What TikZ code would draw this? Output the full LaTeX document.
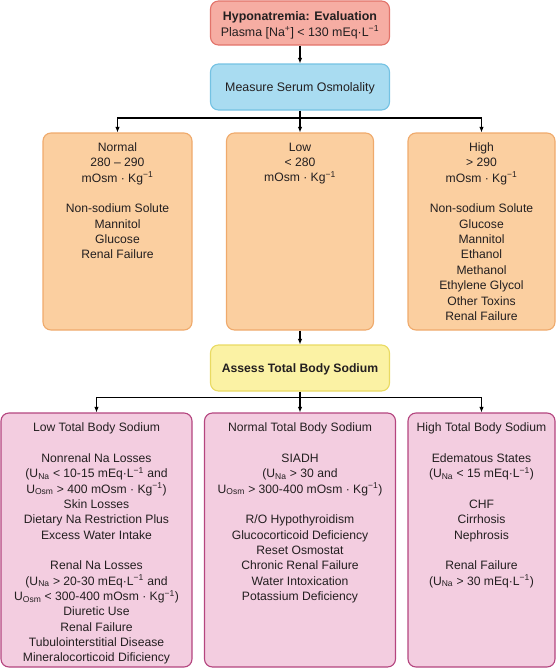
\documentclass[tikz,border=0pt]{standalone}
\usepackage{fontspec}
\setmainfont{Liberation Sans}
\usetikzlibrary{arrows.meta}
\definecolor{ink}{HTML}{231F20}
\definecolor{redfill}{HTML}{F6ADA3}
\definecolor{redline}{HTML}{E2736A}
\definecolor{bluefill}{HTML}{A9DCF1}
\definecolor{blueline}{HTML}{74C2E3}
\definecolor{orfill}{HTML}{FBCFA0}
\definecolor{orline}{HTML}{EFAA6C}
\definecolor{yelfill}{HTML}{FBF2A4}
\definecolor{yelline}{HTML}{E9DA62}
\definecolor{pinkfill}{HTML}{F3CDE0}
\definecolor{pinkline}{HTML}{B4457F}
\tikzset{
  txt/.style={text=ink, font=\fontsize{12.15}{15.35}\selectfont, align=center, inner sep=0pt},
  bigtxt/.style={txt, font=\fontsize{12.4}{15.3}\selectfont},
  boxbase/.style={rounded corners=8pt, line width=1.1pt, inner sep=0pt},
  redbox/.style={boxbase, draw=redline, fill=redfill},
  bluebox/.style={boxbase, draw=blueline, fill=bluefill},
  orbox/.style={boxbase, draw=orline, fill=orfill},
  yelbox/.style={boxbase, draw=yelline, fill=yelfill},
  pinkbox/.style={boxbase, draw=pinkline, fill=pinkfill},
  link/.style={draw=black, line width=1.2pt, -{Latex[length=5.5pt,width=4.5pt]}},
  wire/.style={draw=black, line width=1.2pt},
}
\begin{document}
\begin{tikzpicture}[x=1pt,y=-1pt]
\useasboundingbox (0,0) rectangle (556,670);
% boxes
\node[redbox, minimum width=179pt, minimum height=44pt] (eval) at (300,23) {};
\node[bluebox, minimum width=179pt, minimum height=46pt] (meas) at (300,87) {};
\node[orbox, minimum width=149pt, minimum height=197pt] (onorm) at (117.5,231.5) {};
\node[orbox, minimum width=147pt, minimum height=197pt] (olow) at (300,231.5) {};
\node[orbox, minimum width=147pt, minimum height=197pt] (ohigh) at (481.5,231.5) {};
\node[yelbox, minimum width=179pt, minimum height=46pt] (assess) at (300,368) {};
\node[pinkbox, minimum width=191pt, minimum height=254pt] (plow) at (96.5,540) {};
\node[pinkbox, minimum width=191pt, minimum height=254pt] (pnorm) at (300,540) {};
\node[pinkbox, minimum width=147pt, minimum height=254pt] (phigh) at (481.5,540) {};
% texts
\node[bigtxt, anchor=north] (teval) at (300,11.6) {\textbf{Hyponatremia: Evaluation}\\Plasma [Na\textsuperscript{+}] < 130 mEq·L\textsuperscript{−1}};
\node[bigtxt, anchor=base] (tmeas) at (300,91.6) {Measure Serum Osmolality};
\node[txt, anchor=north] (tonorm) at (117.5,142.5) {Normal\\280 – 290\\mOsm · Kg\textsuperscript{−1}\\[15.35pt]Non-sodium Solute\\Mannitol\\Glucose\\Renal Failure};
\node[txt, anchor=north] (tolow) at (300,142.5) {Low\\< 280\\mOsm · Kg\textsuperscript{−1}};
\node[txt, anchor=north] (tohigh) at (481.5,142.5) {High\\> 290\\mOsm · Kg\textsuperscript{−1}\\[15.35pt]Non-sodium Solute\\Glucose\\Mannitol\\Ethanol\\Methanol\\Ethylene Glycol\\Other Toxins\\Renal Failure};
\node[txt, anchor=base, font=\fontsize{12.2}{15.35}\selectfont\bfseries] (tassess) at (300,372.3) {Assess Total Body Sodium};
\node[txt, anchor=north] (tplow) at (96.5,422.6) {Low Total Body Sodium\\[15.35pt]Nonrenal Na Losses\\(U\textsubscript{Na} < 10-15 mEq·L\textsuperscript{−1} and\\U\textsubscript{Osm} > 400 mOsm · Kg\textsuperscript{−1})\\Skin Losses\\Dietary Na Restriction Plus\\Excess Water Intake\\[15.35pt]Renal Na Losses\\(U\textsubscript{Na} > 20-30 mEq·L\textsuperscript{−1} and\\U\textsubscript{Osm} < 300-400 mOsm · Kg\textsuperscript{−1})\\Diuretic Use\\Renal Failure\\Tubulointerstitial Disease\\Mineralocorticoid Dificiency};
\node[txt, anchor=north] (tpnorm) at (300,422.6) {Normal Total Body Sodium\\[15.35pt]SIADH\\(U\textsubscript{Na} > 30 and\\U\textsubscript{Osm} > 300-400 mOsm · Kg\textsuperscript{−1})\\[15.35pt]R/O Hypothyroidism\\Glucocorticoid Deficiency\\Reset Osmostat\\Chronic Renal Failure\\Water Intoxication\\Potassium Deficiency};
\node[txt, anchor=north] (tphigh) at (481.5,422.6) {High Total Body Sodium\\[15.35pt]Edematous States\\(U\textsubscript{Na} < 15 mEq·L\textsuperscript{−1})\\[15.35pt]CHF\\Cirrhosis\\Nephrosis\\[15.35pt]Renal Failure\\(U\textsubscript{Na} > 30 mEq·L\textsuperscript{−1})};
% connectors
\coordinate (bus1) at (300,118);
\coordinate (bus2) at (300,397.5);
\draw[link] (eval) -- (meas);
\draw[wire] (meas) -- (bus1);
\draw[link] (bus1) -| (onorm);
\draw[link] (bus1) -- (olow);
\draw[link] (bus1) -| (ohigh);
\draw[link] (olow) -- (assess);
\draw[wire] (assess) -- (bus2);
\draw[link] (bus2) -| (plow);
\draw[link] (bus2) -- (pnorm);
\draw[link] (bus2) -| (phigh);
\end{tikzpicture}
\end{document}
